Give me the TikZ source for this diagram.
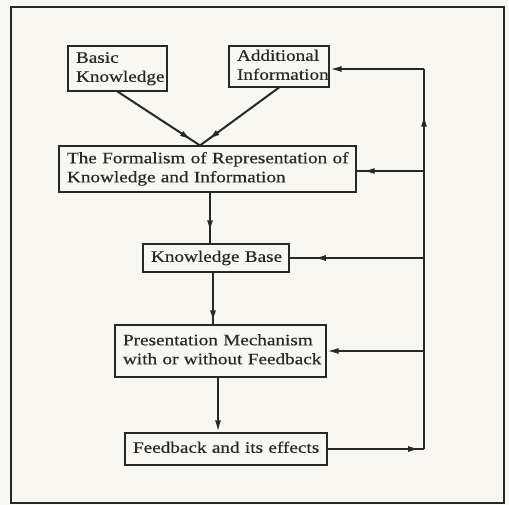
\documentclass[tikz,border=0pt]{standalone}
\usepackage{fontspec}
\setmainfont[FakeStretch=1.2,FakeBold=0.5]{Liberation Serif}
\usetikzlibrary{arrows.meta,decorations.markings}
\definecolor{paper}{RGB}{248,247,242}
\definecolor{ink}{RGB}{40,40,40}
\newcommand{\boxlines}[1]{\begin{tabular}{@{}l@{}}#1\end{tabular}}
\begin{document}
\begin{tikzpicture}[x=1pt,y=-1pt,
  every node/.style={font=\fontsize{16}{19}\selectfont, text=ink},
  stage/.style={draw=ink, line width=1.1pt, rectangle, inner xsep=8pt, inner ysep=0pt, align=left},
  flow/.style={draw=ink, line width=2pt},
  tipat/.style={postaction={decorate}, decoration={markings,
      mark=at position #1 with {\arrow{Latex[length=12pt,width=6pt]}}}},
  endtip/.style={-{Latex[length=12pt,width=6pt]}}
]
% paper and outer frame
\fill[paper] (0,0) rectangle (509,505);
\useasboundingbox (0,0) rectangle (509,505);
\draw[ink, line width=1.5pt] (11,7) rectangle (504,503);

% stages
\node[stage, text width=83pt, minimum height=45pt] (basic) at (117.5,68.5) {\boxlines{Basic\\Knowledge}};
\node[stage, text width=84pt, minimum height=41pt] (addinfo) at (279,66.5) {\boxlines{Additional\\Information}};
\node[stage, text width=281pt, minimum height=46pt] (formal) at (207.5,169) {\boxlines{The Formalism of Representation of\\Knowledge and Information}};
\node[stage, text width=130pt, minimum height=28pt] (kb) at (216,258) {\boxlines{Knowledge Base}};
\node[stage, text width=195pt, minimum height=52pt] (pres) at (220.5,351) {\boxlines{Presentation Mechanism\\with or without Feedback}};
\node[stage, text width=186pt, minimum height=32pt] (fb) at (226,449) {\boxlines{Feedback and its effects}};

% feedback loop corners
\coordinate (cb) at (424,449);
\coordinate (ct) at (424,69);

% inputs into the formalism
\draw[flow, tipat=0.9] (basic.south) -- ([xshift=-7.5pt]formal.north);
\draw[flow, tipat=0.9] (addinfo.south) -- ([xshift=-7.5pt]formal.north);

% main downward chain
\draw[flow, tipat=0.78] ([xshift=2.5pt]formal.south) -- ([xshift=2.5pt]formal.south |- kb.north);
\draw[flow, tipat=0.96] ([xshift=-3pt]kb.south) -- ([xshift=-3pt]kb.south |- pres.north);
\draw[flow, endtip] ([xshift=-2.5pt]pres.south) -- ([xshift=-2.5pt]pres.south |- fb.north);

% feedback loop back to every stage
\draw[flow, tipat=0.96] (fb.east) -- (cb);
\draw[flow, tipat=0.88] (cb) -- (ct);
\draw[flow, endtip] (ct) -- (ct -| addinfo.east);
\draw[flow, tipat=0.91] ([yshift=-2pt]formal.east -| ct) -- ([yshift=-2pt]formal.east);
\draw[flow, tipat=0.82] (kb.east -| ct) -- (kb.east);
\draw[flow, endtip] (pres.east -| ct) -- (pres.east);
\end{tikzpicture}
\end{document}
